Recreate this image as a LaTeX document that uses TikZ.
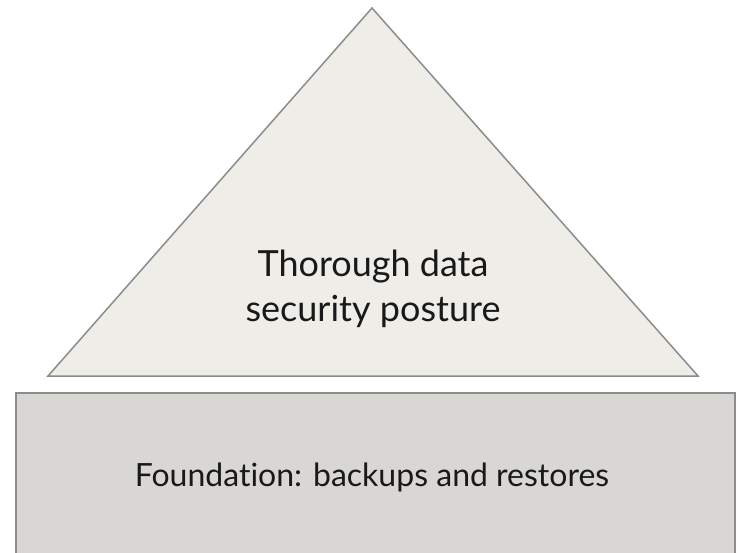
\documentclass[tikz,border=0pt]{standalone}
\usepackage{fontspec}
\setmainfont{Lato}[Ligatures=NoCommon]
\begin{document}
\begin{tikzpicture}[x=1pt,y=-1pt,
  shapeline/.style={draw=black!45,line width=1.5pt,line join=miter},
  label/.style={text=black!90,align=center,inner sep=0pt}]
\useasboundingbox (0,0) rectangle (738,553);
% base block, running past the lower edge
\filldraw[shapeline,fill={rgb,255:red,216;green,215;blue,211}] (16,393) rectangle (735,560);
% triangle on top
\filldraw[shapeline,fill={rgb,255:red,238;green,237;blue,232}] (372,8) -- (698,376) -- (48,376) -- cycle;
\node[label,font=\fontsize{36}{45}\selectfont] (top) at (373,289) {Thorough data\\security posture};
\node[label,font=\fontsize{32}{40}\selectfont,anchor=base] (base) at (372,486) {Foundation: backups and restores};
\end{tikzpicture}
\end{document}
